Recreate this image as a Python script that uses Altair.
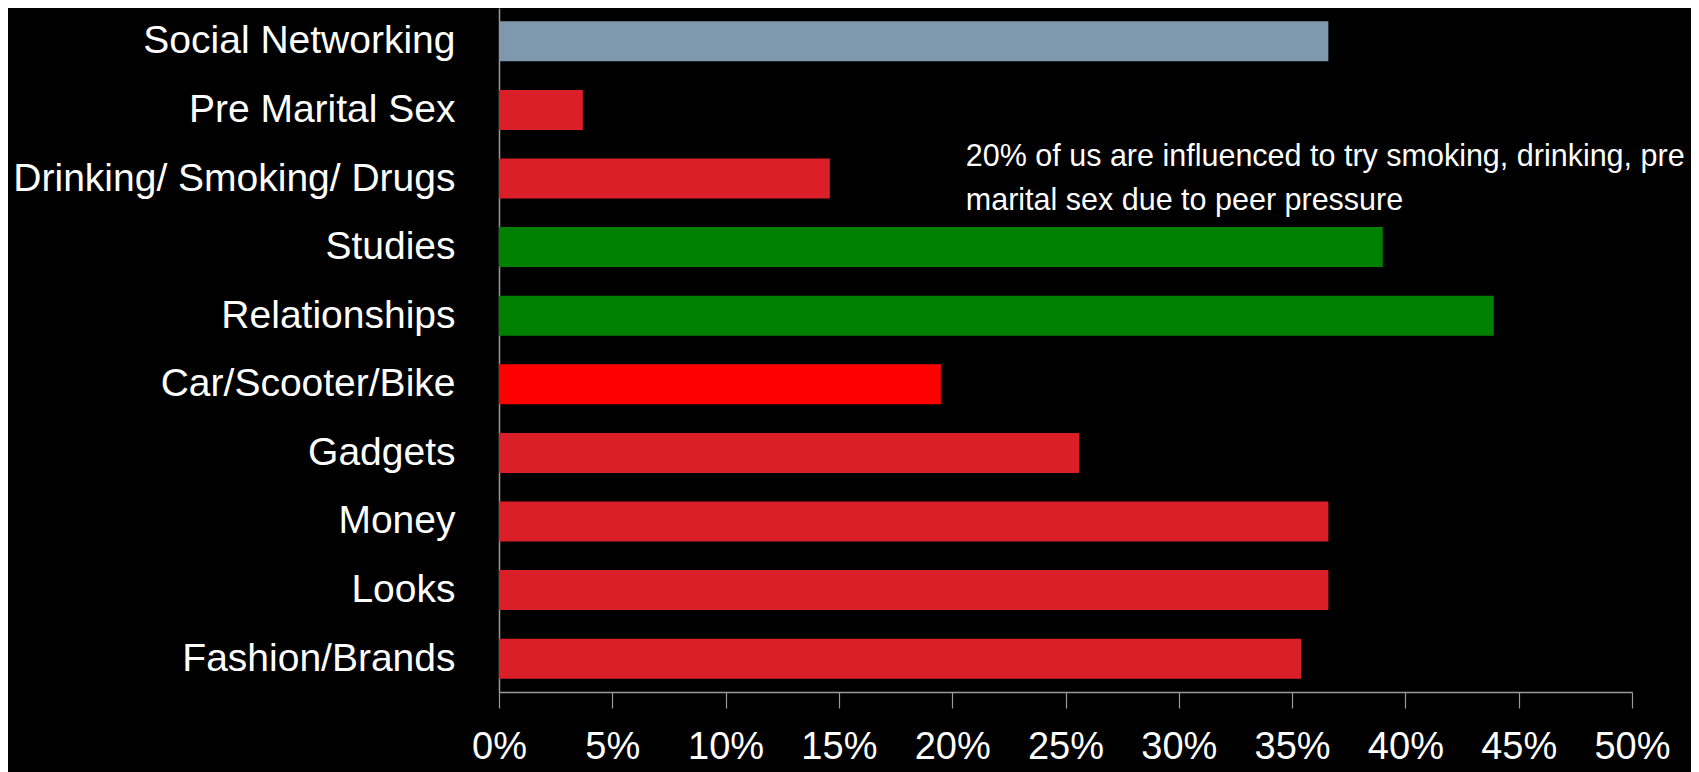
import altair as alt
import pandas as pd

categories = [
    "Social Networking",
    "Pre Marital Sex",
    "Drinking/ Smoking/ Drugs",
    "Studies",
    "Relationships",
    "Car/Scooter/Bike",
    "Gadgets",
    "Money",
    "Looks",
    "Fashion/Brands",
]
values = [0.366, 0.037, 0.146, 0.390, 0.439, 0.195, 0.256, 0.366, 0.366, 0.354]
groups = ["neutral", "negative", "negative", "positive", "positive",
          "vehicle", "negative", "negative", "negative", "negative"]
x_ticks = [0, 0.05, 0.10, 0.15, 0.20, 0.25, 0.30, 0.35, 0.40, 0.45, 0.50]
note_lines = ["20% of us are influenced to try smoking, drinking, pre",
              "marital sex due to peer pressure"]
note_x = 0.206
note_row = "Drinking/ Smoking/ Drugs"

df = pd.DataFrame({"category": categories, "value": values, "group": groups})
note_df = pd.DataFrame({"x": [note_x], "category": [note_row], "text": [note_lines]})

FONT = "Liberation Sans, Arial, sans-serif"

y_enc = alt.Y(
    "category:N",
    sort=categories,
    scale=alt.Scale(paddingInner=0.417, paddingOuter=0.194),
    axis=alt.Axis(
        title=None, ticks=False, labelFontSize=39, labelColor="white",
        labelFont=FONT, labelPadding=44, domainColor="#9a9a9a", labelLimit=600,
        domainWidth=1.5,
    ),
)
x_scale = alt.Scale(domain=[0, 0.5], nice=False)

bars = alt.Chart(df).mark_bar().encode(
    x=alt.X(
        "value:Q", scale=x_scale,
        axis=alt.Axis(
            title=None, values=x_ticks, format=".0%", grid=False,
            labelFontSize=38, labelColor="white", labelFont=FONT,
            tickSize=16, tickColor="#9a9a9a", domainColor="#9a9a9a",
            labelPadding=20, domainWidth=1.5, tickWidth=1.2,
            labelFlush=False, labelOverlap=False,
        ),
    ),
    y=y_enc,
    color=alt.Color(
        "group:N",
        scale=alt.Scale(
            domain=["neutral", "negative", "positive", "vehicle"],
            range=["#8098AE", "#DA1F28", "#008000", "#FF0000"],
        ),
        legend=None,
    ),
)

note = alt.Chart(note_df).mark_text(
    align="left", baseline="alphabetic", font=FONT, fontSize=30.5,
    color="white", lineHeight=44, dy=-13,
).encode(
    x=alt.X("x:Q", scale=x_scale),
    y=alt.Y("category:N", sort=categories),
    text="text",
)

chart = (
    alt.layer(bars, note)
    .properties(
        width=1133, height=684,
        autosize=alt.AutoSizeParams(type="none"),
        padding={"left": 491, "top": 0, "right": 59, "bottom": 80},
        background="black",
    )
    .configure_view(stroke=None)
)

chart.save("out.html", embed_options={"renderer": "svg", "actions": False})
